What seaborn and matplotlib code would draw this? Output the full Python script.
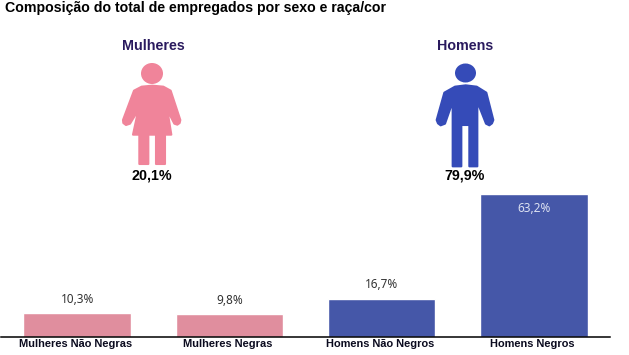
import matplotlib
matplotlib.use('Agg')
import matplotlib.pyplot as plt
import seaborn as sns
import pandas as pd
from matplotlib.patches import Ellipse, Polygon
from matplotlib.transforms import ScaledTranslation

# dados
categorias = ['Mulheres Não Negras', 'Mulheres Negras', 'Homens Não Negros', 'Homens Negros']
valores = [10.3, 9.8, 16.7, 63.2]
rotulos = ['10,3%', '9,8%', '16,7%', '63,2%']
cores = ['#E08E9E', '#E08E9E', '#4557A8', '#4557A8']
grupos = ['Mulheres', 'Homens']
totais = ['20,1%', '79,9%']

sns.set_theme(style='white')
plt.rcParams['font.family'] = ['Liberation Sans', 'DejaVu Sans']

W, H = 629, 355
fig = plt.figure(figsize=(W / 100, H / 100), dpi=100)
ax = fig.add_axes([1 / W, 1 - 336.5 / H, 609 / W, 142.2 / H])

df = pd.DataFrame({'categoria': categorias, 'valor': valores})
sns.barplot(data=df, x='categoria', y='valor', hue='categoria', palette=cores,
            width=0.705, saturation=1, legend=False, ax=ax)
ax.set_ylim(0, 63.2)
ax.set_xlim(-0.5, 3.5)
ax.set_xlabel('')
ax.set_ylabel('')
ax.set_yticks([])
ax.tick_params(axis='x', length=0, pad=2)
# rotulos um pouco a esquerda das barras, como no original
desloc = ScaledTranslation(-2 / 100, 0, fig.dpi_scale_trans)
for lab in ax.get_xticklabels():
    lab.set_fontsize(7.9)
    lab.set_fontweight('bold')
    lab.set_color('#0A0A1E')
    lab.set_transform(lab.get_transform() + desloc)
for s in ['top', 'left', 'right']:
    ax.spines[s].set_visible(False)
ax.spines['bottom'].set_color('black')
ax.spines['bottom'].set_linewidth(1.1)
ax.patch.set_alpha(0)

for i, (v, r) in enumerate(zip(valores, rotulos)):
    if v > 50:
        ax.annotate(r, (i, v), xytext=(0, -14), textcoords='offset pixels', ha='center', va='center',
                    fontsize=8.5, color='#DDE2F2', family='Noto Sans')
    else:
        ax.annotate(r, (i, v), xytext=(0, 14), textcoords='offset pixels', ha='center', va='center',
                    fontsize=8.5, color='#333333', family='Noto Sans')

# camada em pixels para os icones e textos de cima
over = fig.add_axes([0, 0, 1, 1])
over.set_xlim(0, W)
over.set_ylim(H, 0)
over.axis('off')
over.patch.set_alpha(0)

over.text(5, 8, 'Composição do total de empregados por sexo e raça/cor', fontsize=10.15,
          fontweight='bold', color='black', ha='left', va='center')


def px(pts, x0, y0):
    return [(x0 + a / 3, y0 + b / 3) for a, b in pts]


# mulher
cor_m = '#F0849A'
over.add_patch(Ellipse((152, 73.5), 22, 21, color=cor_m, lw=0))
corpo_m = [(125, 170), (157, 167), (190, 170), (212, 182), (241, 270), (239, 279), (232, 284), (223, 281),
           (202, 240), (214, 314), (195, 314), (195, 402), (168, 402), (168, 314), (145, 314), (145, 402),
           (118, 402), (118, 314), (99, 314), (115, 240), (90, 281), (78, 285), (70, 279), (69, 270), (102, 182)]
over.add_patch(Polygon(px(corpo_m, 100, 30), closed=True, facecolor=cor_m, edgecolor=cor_m, lw=1.5,
                       joinstyle='round'))

# homem
cor_h = '#354BB8'
over.add_patch(Ellipse((465.5, 73), 21, 19, color=cor_h, lw=0))
corpo_h = [(135, 170), (167, 166), (200, 170), (229, 188), (250, 270), (246, 280), (238, 286), (228, 281),
           (202, 215), (202, 409), (178, 409), (178, 285), (154, 285), (154, 409), (128, 409), (128, 215),
           (105, 281), (92, 286), (84, 280), (80, 270), (103, 188)]
over.add_patch(Polygon(px(corpo_h, 410, 30), closed=True, facecolor=cor_h, edgecolor=cor_h, lw=1.5,
                       joinstyle='round'))

for x, g, t in zip([153.5, 465], grupos, totais):
    over.text(x, 46, g, fontsize=10.3, fontweight='bold', color='#2A1A5E', ha='center', va='center')
    over.text(152 if g == 'Mulheres' else x, 175, t, fontsize=10.3, fontweight='bold', color='black',
              ha='center', va='center')

fig.savefig('out.png', dpi=100)
